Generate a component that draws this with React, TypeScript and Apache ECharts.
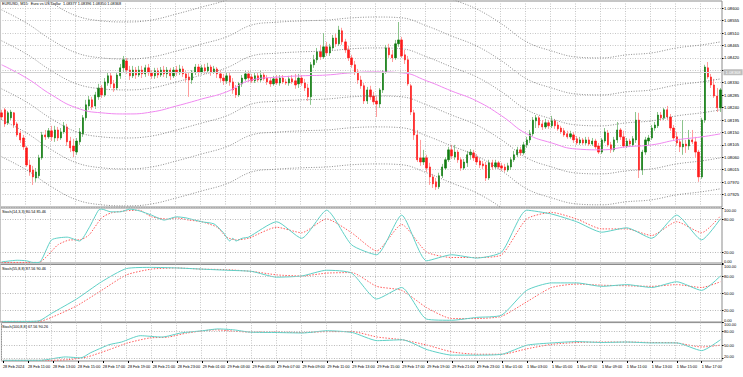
import React, { useEffect, useRef } from "react";
import * as echarts from "echarts";

const titleText = "EURUSD, M15:  Euro vs US Dollar  1.08377 1.08396 1.08350 1.08368";
const stochTitles = ["Stoch(14,3,3) 80.54 85.46", "Stoch(55,8,8) 87.56 90.46", "Stoch(100,8,8) 67.56 90.26"];
const bidPrice = 1.08368;

const tickLabels = [
  "28 Feb 2024", "28 Feb 11:00", "28 Feb 13:00", "28 Feb 15:00", "28 Feb 17:00", "28 Feb 19:00", "28 Feb 21:00", "28 Feb 23:00",
  "29 Feb 01:00", "29 Feb 03:00", "29 Feb 05:00", "29 Feb 07:00", "29 Feb 09:00", "29 Feb 11:00", "29 Feb 13:00", "29 Feb 15:00",
  "29 Feb 17:00", "29 Feb 19:00", "29 Feb 21:00", "29 Feb 23:00", "1 Mar 01:00", "1 Mar 03:00", "1 Mar 05:00", "1 Mar 07:00",
  "1 Mar 09:00", "1 Mar 11:00", "1 Mar 13:00", "1 Mar 15:00", "1 Mar 17:00",
];

// [open, close, low, high]
const candles: number[][] = [
  [1.08221,1.08206,1.08195,1.08232],[1.08232,1.08181,1.08170,1.08239],[1.08185,1.08221,1.08177,1.08228],[1.08203,1.08224,1.08195,1.08232],
  [1.08221,1.08177,1.08166,1.08224],[1.08181,1.08141,1.08134,1.08188],[1.08148,1.08123,1.08112,1.08156],[1.08130,1.08098,1.08087,1.08141],
  [1.08094,1.08032,1.08025,1.08101],[1.08032,1.08007,1.07993,1.08051],[1.08014,1.07989,1.07960,1.08029],[1.07985,1.08007,1.07971,1.08021],
  [1.07993,1.08058,1.07985,1.08069],[1.08058,1.08141,1.08051,1.08152],[1.08141,1.08134,1.08123,1.08159],[1.08134,1.08156,1.08127,1.08166],
  [1.08156,1.08134,1.08119,1.08174],[1.08130,1.08159,1.08116,1.08174],[1.08159,1.08130,1.08119,1.08170],[1.08130,1.08152,1.08123,1.08166],
  [1.08152,1.08174,1.08145,1.08188],[1.08170,1.08116,1.08101,1.08181],[1.08119,1.08094,1.08079,1.08134],[1.08101,1.08083,1.08061,1.08127],
  [1.08079,1.08119,1.08069,1.08130],[1.08116,1.08152,1.08105,1.08166],[1.08145,1.08203,1.08134,1.08213],[1.08203,1.08250,1.08192,1.08268],
  [1.08246,1.08268,1.08232,1.08282],[1.08268,1.08242,1.08232,1.08279],[1.08246,1.08286,1.08235,1.08297],[1.08279,1.08311,1.08268,1.08326],
  [1.08311,1.08286,1.08275,1.08322],[1.08286,1.08333,1.08279,1.08347],[1.08329,1.08355,1.08319,1.08369],[1.08355,1.08326,1.08311,1.08366],
  [1.08326,1.08311,1.08297,1.08340],[1.08311,1.08358,1.08304,1.08369],[1.08355,1.08384,1.08344,1.08398],[1.08384,1.08413,1.08369,1.08427],
  [1.08409,1.08376,1.08362,1.08420],[1.08376,1.08355,1.08340,1.08391],[1.08355,1.08376,1.08347,1.08391],[1.08376,1.08358,1.08344,1.08387],
  [1.08358,1.08376,1.08351,1.08391],[1.08376,1.08362,1.08347,1.08391],[1.08362,1.08384,1.08351,1.08395],[1.08384,1.08366,1.08355,1.08398],
  [1.08366,1.08355,1.08344,1.08376],[1.08355,1.08373,1.08344,1.08384],[1.08373,1.08358,1.08347,1.08384],[1.08358,1.08376,1.08351,1.08387],
  [1.08376,1.08362,1.08351,1.08391],[1.08362,1.08376,1.08347,1.08387],[1.08376,1.08355,1.08340,1.08384],[1.08355,1.08376,1.08347,1.08387],
  [1.08376,1.08366,1.08355,1.08391],[1.08366,1.08380,1.08358,1.08395],[1.08380,1.08362,1.08351,1.08391],[1.08362,1.08347,1.08333,1.08373],
  [1.08351,1.08340,1.08279,1.08369],[1.08340,1.08369,1.08326,1.08376],[1.08369,1.08387,1.08358,1.08398],[1.08387,1.08369,1.08358,1.08398],
  [1.08369,1.08384,1.08362,1.08395],[1.08384,1.08373,1.08362,1.08398],[1.08373,1.08387,1.08366,1.08402],[1.08387,1.08369,1.08355,1.08395],
  [1.08369,1.08380,1.08362,1.08391],[1.08380,1.08362,1.08347,1.08387],[1.08362,1.08347,1.08333,1.08373],[1.08347,1.08337,1.08322,1.08362],
  [1.08337,1.08355,1.08326,1.08366],[1.08355,1.08333,1.08319,1.08366],[1.08333,1.08304,1.08290,1.08347],[1.08311,1.08286,1.08275,1.08322],
  [1.08286,1.08326,1.08279,1.08333],[1.08326,1.08347,1.08315,1.08358],[1.08344,1.08362,1.08337,1.08373],[1.08362,1.08347,1.08333,1.08373],
  [1.08351,1.08337,1.08329,1.08362],[1.08337,1.08355,1.08329,1.08366],[1.08355,1.08340,1.08333,1.08366],[1.08340,1.08358,1.08333,1.08373],
  [1.08358,1.08344,1.08337,1.08369],[1.08347,1.08333,1.08322,1.08358],[1.08337,1.08326,1.08315,1.08347],[1.08326,1.08344,1.08319,1.08355],
  [1.08344,1.08329,1.08322,1.08358],[1.08329,1.08347,1.08319,1.08358],[1.08347,1.08333,1.08326,1.08358],[1.08333,1.08329,1.08322,1.08344],
  [1.08329,1.08344,1.08319,1.08355],[1.08344,1.08333,1.08326,1.08358],[1.08337,1.08322,1.08308,1.08362],[1.08326,1.08347,1.08311,1.08362],
  [1.08347,1.08329,1.08319,1.08358],[1.08329,1.08311,1.08300,1.08344],[1.08311,1.08279,1.08264,1.08326],[1.08279,1.08395,1.08250,1.08405],
  [1.08395,1.08413,1.08384,1.08431],[1.08413,1.08442,1.08402,1.08456],[1.08442,1.08424,1.08413,1.08467],[1.08424,1.08460,1.08416,1.08510],
  [1.08460,1.08438,1.08427,1.08478],[1.08438,1.08460,1.08427,1.08471],[1.08456,1.08492,1.08449,1.08503],[1.08492,1.08471,1.08460,1.08507],
  [1.08471,1.08521,1.08463,1.08536],[1.08518,1.08478,1.08467,1.08529],[1.08478,1.08449,1.08438,1.08489],[1.08449,1.08420,1.08409,1.08463],
  [1.08420,1.08395,1.08384,1.08431],[1.08395,1.08369,1.08358,1.08409],[1.08369,1.08340,1.08326,1.08380],[1.08340,1.08319,1.08308,1.08355],
  [1.08319,1.08264,1.08253,1.08329],[1.08264,1.08304,1.08253,1.08315],[1.08304,1.08279,1.08268,1.08319],[1.08282,1.08261,1.08250,1.08297],
  [1.08264,1.08253,1.08206,1.08279],[1.08253,1.08304,1.08239,1.08311],[1.08304,1.08369,1.08293,1.08376],[1.08369,1.08456,1.08362,1.08467],
  [1.08456,1.08431,1.08420,1.08471],[1.08431,1.08420,1.08405,1.08449],[1.08420,1.08471,1.08413,1.08485],[1.08471,1.08485,1.08460,1.08550],
  [1.08485,1.08427,1.08420,1.08496],[1.08431,1.08413,1.08398,1.08449],[1.08413,1.08326,1.08319,1.08427],[1.08319,1.08224,1.08213,1.08326],
  [1.08221,1.08141,1.08123,1.08232],[1.08141,1.08051,1.08043,1.08159],[1.08058,1.08043,1.08029,1.08123],[1.08043,1.08058,1.08032,1.08087],
  [1.08058,1.08021,1.08007,1.08069],[1.08025,1.07989,1.07960,1.08040],[1.07989,1.07964,1.07949,1.08000],[1.07971,1.07953,1.07942,1.07985],
  [1.07953,1.07993,1.07945,1.08004],[1.07993,1.08025,1.07985,1.08036],[1.08021,1.08051,1.08014,1.08061],[1.08051,1.08087,1.08043,1.08098],
  [1.08087,1.08065,1.08054,1.08105],[1.08061,1.08079,1.08051,1.08105],[1.08079,1.08051,1.08040,1.08087],[1.08051,1.08021,1.08011,1.08061],
  [1.08021,1.08043,1.08014,1.08054],[1.08040,1.08069,1.08025,1.08083],[1.08069,1.08079,1.08051,1.08090],[1.08076,1.08058,1.08047,1.08087],
  [1.08061,1.08043,1.08032,1.08072],[1.08047,1.08032,1.08021,1.08058],[1.08036,1.08029,1.08018,1.08047],[1.08032,1.07985,1.07974,1.08043],
  [1.07985,1.08040,1.07978,1.08051],[1.08040,1.08025,1.08014,1.08051],[1.08025,1.08040,1.08018,1.08051],[1.08040,1.08025,1.08018,1.08047],
  [1.08029,1.08021,1.08011,1.08040],[1.08025,1.08014,1.08007,1.08036],[1.08014,1.08029,1.08007,1.08040],[1.08025,1.08051,1.08014,1.08061],
  [1.08051,1.08069,1.08043,1.08083],[1.08069,1.08087,1.08061,1.08098],[1.08087,1.08076,1.08065,1.08098],[1.08076,1.08105,1.08069,1.08116],
  [1.08105,1.08123,1.08094,1.08134],[1.08123,1.08145,1.08112,1.08159],[1.08145,1.08195,1.08137,1.08206],[1.08192,1.08203,1.08166,1.08213],
  [1.08203,1.08177,1.08166,1.08210],[1.08181,1.08170,1.08159,1.08195],[1.08170,1.08185,1.08163,1.08199],[1.08185,1.08174,1.08163,1.08195],
  [1.08174,1.08192,1.08166,1.08210],[1.08192,1.08174,1.08163,1.08199],[1.08177,1.08163,1.08156,1.08188],[1.08166,1.08152,1.08145,1.08174],
  [1.08156,1.08141,1.08134,1.08166],[1.08145,1.08134,1.08127,1.08156],[1.08134,1.08145,1.08127,1.08156],[1.08141,1.08123,1.08112,1.08152],
  [1.08127,1.08112,1.08105,1.08137],[1.08112,1.08123,1.08105,1.08134],[1.08123,1.08112,1.08105,1.08130],[1.08112,1.08123,1.08105,1.08134],
  [1.08123,1.08108,1.08101,1.08134],[1.08108,1.08119,1.08101,1.08130],[1.08119,1.08098,1.08090,1.08127],[1.08101,1.08079,1.08072,1.08112],
  [1.08079,1.08123,1.08072,1.08130],[1.08119,1.08152,1.08112,1.08166],[1.08148,1.08105,1.08098,1.08159],[1.08105,1.08087,1.08076,1.08116],
  [1.08087,1.08123,1.08079,1.08134],[1.08123,1.08159,1.08112,1.08188],[1.08159,1.08134,1.08123,1.08166],[1.08134,1.08101,1.08094,1.08156],
  [1.08101,1.08119,1.08094,1.08130],[1.08119,1.08108,1.08098,1.08127],[1.08105,1.08127,1.08098,1.08137],[1.08123,1.08195,1.08112,1.08224],
  [1.08195,1.08014,1.07985,1.08221],[1.08014,1.08079,1.07996,1.08087],[1.08079,1.08123,1.08069,1.08134],[1.08119,1.08130,1.08105,1.08141],
  [1.08130,1.08166,1.08123,1.08177],[1.08166,1.08177,1.08156,1.08188],[1.08174,1.08213,1.08166,1.08224],[1.08213,1.08203,1.08192,1.08224],
  [1.08203,1.08232,1.08195,1.08239],[1.08232,1.08206,1.08195,1.08246],[1.08206,1.08166,1.08156,1.08217],[1.08166,1.08130,1.08123,1.08177],
  [1.08134,1.08112,1.08101,1.08152],[1.08116,1.08098,1.08079,1.08127],[1.08098,1.08108,1.08069,1.08195],[1.08108,1.08101,1.08076,1.08123],
  [1.08101,1.08123,1.08087,1.08159],[1.08123,1.08116,1.08108,1.08159],[1.08116,1.08079,1.08058,1.08134],[1.08079,1.07989,1.07971,1.08087],
  [1.07989,1.08195,1.07982,1.08203],[1.08195,1.08387,1.08185,1.08395],[1.08384,1.08351,1.08344,1.08405],[1.08351,1.08322,1.08311,1.08362],
  [1.08322,1.08282,1.08275,1.08344],[1.08282,1.08239,1.08224,1.08311],[1.08239,1.08304,1.08224,1.08311],
];

// values read at bars 0, 8, 16, ..., 224 and the last bar (230)
const sampleBars = [0, 8, 16, 24, 32, 40, 48, 56, 64, 72, 80, 88, 96, 104, 112, 120, 128, 136, 144, 152, 160, 168, 176, 184, 192, 200, 208, 216, 224, 230];
const maLine = [1.08395,1.08347,1.08286,1.08239,1.08221,1.08217,1.08224,1.08246,1.08271,1.08297,1.08340,1.08350,1.08355,1.08358,1.08366,1.08369,1.08366,1.08337,1.08300,1.08264,1.08210,1.08145,1.08112,1.08090,1.08087,1.08098,1.08105,1.08123,1.08134,1.08145];
const bandUp1 = [1.08482,1.08434,1.08373,1.08326,1.08308,1.08304,1.08311,1.08333,1.08358,1.08384,1.08427,1.08437,1.08442,1.08445,1.08453,1.08456,1.08453,1.08424,1.08387,1.08351,1.08297,1.08232,1.08199,1.08177,1.08174,1.08185,1.08192,1.08210,1.08221,1.08232];
const bandUp2 = [1.08594,1.08546,1.08485,1.08438,1.08420,1.08416,1.08423,1.08445,1.08470,1.08496,1.08539,1.08549,1.08554,1.08557,1.08565,1.08568,1.08565,1.08536,1.08499,1.08463,1.08409,1.08344,1.08311,1.08289,1.08286,1.08297,1.08304,1.08322,1.08333,1.08344];
const bandUp3 = [1.08728,1.08680,1.08619,1.08572,1.08554,1.08550,1.08557,1.08579,1.08604,1.08630,1.08673,1.08683,1.08688,1.08691,1.08699,1.08702,1.08699,1.08670,1.08633,1.08597,1.08543,1.08478,1.08445,1.08423,1.08420,1.08431,1.08438,1.08456,1.08467,1.08478];
const bandDn1 = [1.08308,1.08260,1.08199,1.08152,1.08134,1.08130,1.08137,1.08159,1.08184,1.08210,1.08253,1.08263,1.08268,1.08271,1.08279,1.08282,1.08279,1.08250,1.08213,1.08177,1.08123,1.08058,1.08025,1.08003,1.08000,1.08011,1.08018,1.08036,1.08047,1.08058];
const bandDn2 = [1.08196,1.08148,1.08087,1.08040,1.08022,1.08018,1.08025,1.08047,1.08072,1.08098,1.08141,1.08151,1.08156,1.08159,1.08167,1.08170,1.08167,1.08138,1.08101,1.08065,1.08011,1.07946,1.07913,1.07891,1.07888,1.07899,1.07906,1.07924,1.07935,1.07946];
const bandDn3 = [1.08062,1.08014,1.07953,1.07906,1.07888,1.07884,1.07891,1.07913,1.07938,1.07964,1.08007,1.08017,1.08022,1.08025,1.08033,1.08036,1.08033,1.08004,1.07967,1.07931,1.07877,1.07812,1.07779,1.07757,1.07754,1.07765,1.07772,1.07790,1.07801,1.07812];

// stochastic readings as [bar index, value]
const stoch1Main = [[0,2],[3,4],[5,5],[8,4],[10,1],[12,1],[16,42],[21,47],[25,40],[28,64],[31,96],[32,98],[35,93],[38,93],[41,98],[44,95],[48,87],[52,78],[56,84],[59,82],[64,75],[68,71],[71,55],[73,40],[74,45],[75,40],[77,45],[79,47],[88,75],[96,45],[104,96],[112,33],[120,15],[128,87],[136,4],[144,15],[152,9],[160,20],[168,96],[176,89],[184,75],[192,56],[200,64],[208,45],[216,87],[224,42],[230,80.5]];
const stoch1Signal = [[0,1],[10,1],[12,1],[15,15],[18,33],[22,42],[25,42],[28,51],[32,82],[35,91],[40,95],[44,96],[48,84],[53,80],[56,82],[60,78],[64,75],[69,65],[72,47],[75,42],[79,45],[88,65],[96,55],[104,80],[112,55],[120,22],[128,70],[136,20],[144,10],[152,10],[160,15],[168,80],[176,92],[184,80],[192,62],[200,62],[208,50],[216,75],[224,55],[230,85.5]];
const stoch2Main = [[0,1],[8,1],[12,2],[16,15],[24,40],[32,70],[40,93],[48,95],[56,94],[64,92],[72,90],[80,88],[88,78],[96,80],[104,90],[112,85],[120,40],[128,60],[136,5],[144,3],[152,8],[160,12],[168,55],[176,68],[184,68],[192,62],[200,65],[208,60],[216,70],[224,55],[230,80]];
const stoch2Signal = [[0,1],[8,1],[12,1],[16,8],[24,28],[32,55],[40,82],[48,92],[56,94],[64,92],[72,91],[80,88],[88,82],[96,80],[104,85],[112,86],[120,62],[128,55],[136,25],[144,6],[152,6],[160,10],[168,35],[176,60],[184,66],[192,64],[200,63],[208,62],[216,65],[224,60],[230,70]];
const stoch3Main = [[0,16.5],[12,16.5],[14,18],[20,24],[25,22],[28,33],[34,51],[38,57],[44,71],[51,68],[57,77],[64,82],[69,86],[74,84],[79,79],[88,78],[96,77],[104,82],[112,78],[120,60],[128,62],[136,40],[144,28],[152,28],[160,30],[168,50],[176,55],[184,58],[192,56],[200,57],[208,55],[216,55],[224,38],[230,62]];
const stoch3Signal = [[0,16.5],[14,16.5],[21,18],[27,24],[34,40],[40,55],[47,66],[53,68],[59,77],[68,84],[74,81],[79,79],[88,79],[96,78],[104,80],[112,80],[120,68],[128,62],[136,50],[144,35],[152,30],[160,30],[168,42],[176,52],[184,56],[192,57],[200,57],[208,56],[216,55],[224,46],[230,50]];

const BASE = 1.07925;
const toPts = (p: number) => Math.round((p - BASE) * 1e6) / 10;
const FONT = "Liberation Sans, Arial, sans-serif";

export default function App() {
  const ref = useRef<HTMLDivElement>(null);
  useEffect(() => {
    const chart = echarts.init(ref.current!, null, { renderer: "svg" });
    const categories = candles.map((_, i) => String(i));
    const every8 = (idx: number) => idx % 8 === 0;
    const bidPts = toPts(bidPrice);
    const gridDefs = [
      { left: 0, top: 1, width: 722, height: 206 },
      { left: 0, top: 208, width: 722, height: 55 },
      { left: 0, top: 264.5, width: 722, height: 57.5 },
      { left: 0, top: 322.6, width: 722, height: 38.4 },
    ];
    const grid = gridDefs.map((g) => ({ ...g, show: true, borderColor: "#8c8c8c", borderWidth: 1, backgroundColor: "#fff" }));
    const xAxis = gridDefs.map((_, gi) => ({
      type: "category",
      gridIndex: gi,
      data: categories,
      boundaryGap: true,
      axisLine: { show: false },
      axisTick: gi === 3 ? { show: true, interval: every8, alignWithLabel: true, length: 2, lineStyle: { color: "#000" } } : { show: false },
      axisLabel: gi === 3
        ? { show: true, interval: every8, align: "left", margin: 4, fontSize: 3.8, color: "#000", fontFamily: FONT,
            formatter: (_v: string, idx: number) => tickLabels[idx / 8] ?? "" }
        : { show: false },
      splitLine: { show: true, interval: every8, lineStyle: { color: "#c6c6c6", type: [1, 1.5], width: 1 } },
    }));
    const stochY = (gi: number, min: number, labels: number[]) => ({
      type: "value",
      gridIndex: gi,
      position: "right",
      min,
      max: 100,
      splitLine: { show: false },
      axisLine: { show: false },
      axisTick: { show: true, customValues: labels, length: 1.5, lineStyle: { color: "#000" } },
      axisLabel: { show: true, customValues: labels, margin: 2, fontSize: 4, color: "#000", fontFamily: FONT,
        formatter: (v: number) => v.toFixed(2), verticalAlignMaxLabel: "top", verticalAlignMinLabel: "bottom" },
    });
    const yAxis = [
      {
        type: "value",
        gridIndex: 0,
        position: "right",
        min: -45,
        max: 701,
        interval: 45,
        axisLine: { show: false },
        axisTick: { show: true, length: 1.5, lineStyle: { color: "#000" } },
        axisLabel: { margin: 2, fontSize: 4.2, color: "#000", fontFamily: FONT, showMinLabel: false, showMaxLabel: false,
          formatter: (v: number) => (Math.abs(v - bidPts) < 20 ? "" : (BASE + v / 1e5).toFixed(5)) },
        splitLine: { show: true, lineStyle: { color: "#c6c6c6", type: [1, 1.5], width: 1 } },
      },
      stochY(1, 0, [0, 20, 80, 100]),
      stochY(2, 0, [0, 20, 50, 80, 100]),
      stochY(3, 15, [20, 50, 80, 100]),
    ];
    const sampled = (arr: number[], conv = (v: number) => v) => sampleBars.map((b, i) => [b, conv(arr[i])]);
    const bandSeries = [bandUp3, bandUp2, bandUp1, bandDn1, bandDn2, bandDn3].map((arr) => ({
      type: "line",
      xAxisIndex: 0,
      yAxisIndex: 0,
      data: sampled(arr, toPts),
      smooth: 0.4,
      symbol: "none",
      silent: true,
      clip: true,
      lineStyle: { color: "#6e6e6e", width: 0.8, type: [1, 1.6] },
    }));
    const levelLine = (vals: number[]) => ({
      silent: true,
      symbol: ["none", "none"],
      label: { show: false },
      lineStyle: { color: "#b8b8b8", type: [1, 1.5], width: 1 },
      data: vals.map((v) => ({ yAxis: v })),
    });
    const stochPair = (gi: number, main: number[][], signal: number[][], levels: number[]) => [
      {
        type: "line", xAxisIndex: gi, yAxisIndex: gi, data: main, smooth: 0.2, symbol: "none", silent: true, clip: true,
        lineStyle: { color: "#5fd0c6", width: 1 }, markLine: levelLine(levels), z: 3,
      },
      {
        type: "line", xAxisIndex: gi, yAxisIndex: gi, data: signal, smooth: 0.2, symbol: "none", silent: true, clip: true,
        lineStyle: { color: "#ff5c5c", width: 1, type: [1.5, 1.5] }, z: 2,
      },
    ];
    const option = {
      animation: false,
      backgroundColor: "#ffffff",
      grid,
      xAxis,
      yAxis,
      graphic: [
        { type: "text", left: 2, top: 2, z: 100, style: { text: titleText, fontSize: 3.8, fill: "#000", fontFamily: FONT } },
        { type: "text", left: 2, top: 210, z: 100, style: { text: stochTitles[0], fontSize: 3.8, fill: "#000", fontFamily: FONT } },
        { type: "text", left: 2, top: 266.5, z: 100, style: { text: stochTitles[1], fontSize: 3.8, fill: "#000", fontFamily: FONT } },
        { type: "text", left: 2, top: 324.5, z: 100, style: { text: stochTitles[2], fontSize: 3.8, fill: "#000", fontFamily: FONT } },
      ],
      series: [
        ...bandSeries,
        {
          type: "line", xAxisIndex: 0, yAxisIndex: 0, data: sampled(maLine, toPts), smooth: 0.5, symbol: "none", silent: true,
          lineStyle: { color: "#f088f0", width: 1 },
        },
        {
          type: "candlestick", xAxisIndex: 0, yAxisIndex: 0, barWidth: 1, silent: true,
          data: candles.map(([o, c, l, h]) => [toPts(o), toPts(c), toPts(l), toPts(h)]),
          itemStyle: { color: "#8cc48c", color0: "#ff9c9c", borderColor: "#8cc48c", borderColor0: "#ff9c9c", borderWidth: 1 },
          markLine: {
            silent: true,
            symbol: ["none", "none"],
            lineStyle: { color: "#d0d0d0", type: "solid", width: 1 },
            label: { show: true, position: "end", distance: 1.5, formatter: bidPrice.toFixed(5), fontSize: 4.2, color: "#ffffff",
              backgroundColor: "#bdbdbd", padding: [1, 2], fontFamily: FONT },
            data: [{ yAxis: bidPts }],
          },
        },
        {
          type: "candlestick", xAxisIndex: 0, yAxisIndex: 0, barWidth: 1.8, silent: true,
          data: candles.map(([o, c]) => [toPts(o), toPts(c), toPts(Math.min(o, c)), toPts(Math.max(o, c))]),
          itemStyle: { color: "#0f7a0f", color0: "#ff1a1a", borderColor: "#0f7a0f", borderColor0: "#ff1a1a", borderWidth: 0.6 },
        },
        ...stochPair(1, stoch1Main, stoch1Signal, [20, 80]),
        ...stochPair(2, stoch2Main, stoch2Signal, [20, 50, 80]),
        ...stochPair(3, stoch3Main, stoch3Signal, [20, 50, 80]),
      ],
    };
    chart.setOption(option as any);
    return () => chart.dispose();
  }, []);
  return <div ref={ref} style={{ position: "fixed", left: 0, top: 0, width: 743, height: 377, background: "#fff" }} />;
}
